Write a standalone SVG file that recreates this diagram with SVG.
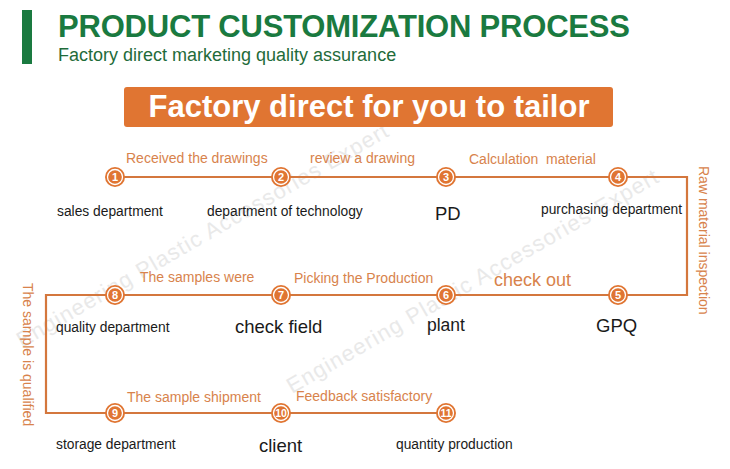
<svg xmlns="http://www.w3.org/2000/svg" width="730" height="469" viewBox="0 0 730 469">
<defs>
<style>
.t{font-family:"Liberation Sans",Arial,sans-serif}
.or{fill:#d8834c;font-size:14px}
.bk{fill:#1a1a1a;font-size:13.8px}
.big{fill:#1a1a1a;font-size:18.5px}
.ln{fill:none;stroke:#d4773d;stroke-width:2.2}
.c{fill:#e07532}
.ring{fill:none;stroke:#fff;stroke-width:1.3}
.num{fill:#fff;font-size:11px;font-weight:bold;text-anchor:middle}
.num2{fill:#fff;font-size:10.5px;font-weight:bold;text-anchor:middle}
.wm{fill:#e2e2e2;font-size:22px;opacity:0.75}
</style>
</defs>
<rect width="730" height="469" fill="#fff"/>
<g id="watermark" class="t">
<text class="wm" x="0" y="0" transform="translate(22,348) rotate(-30)" textLength="425">Engineering Plastic Accessories Expert</text>
<text class="wm" x="0" y="0" transform="translate(292,394) rotate(-30)" textLength="425">Engineering Plastic Accessories Expert</text>
</g>
<g id="header" class="t">
<rect x="22" y="10" width="10" height="54" fill="#1a7a40"/>
<text x="58" y="37" font-size="31" font-weight="bold" fill="#1a7a40" textLength="572">PRODUCT CUSTOMIZATION PROCESS</text>
<text x="58" y="61" font-size="18" fill="#1f6b3a">Factory direct marketing quality assurance</text>
<rect x="124" y="87" width="489" height="40" rx="3" fill="#e07532"/>
<text x="369" y="117" font-size="31" font-weight="bold" fill="#fff" text-anchor="middle">Factory direct for you to tailor</text>
</g>
<g id="connectors">
<path class="ln" d="M115,177 H687 V295 H46 V413 H446"/>
</g>
<g id="edge-labels" class="t">
<text class="or" x="126" y="163">Received the drawings</text>
<text class="or" x="310" y="163">review a drawing</text>
<text class="or" x="469" y="164" xml:space="preserve">Calculation  material</text>
<text class="or" x="140" y="282">The samples were</text>
<text class="or" x="294" y="283">Picking the Production</text>
<text class="or" x="494" y="286" style="font-size:18px">check out</text>
<text class="or" x="127" y="402">The sample shipment</text>
<text class="or" x="296" y="401">Feedback satisfactory</text>
<text class="or" transform="translate(699,166) rotate(90)">Raw material inspection</text>
<text class="or" transform="translate(23,283) rotate(90)">The sample is qualified</text>
</g>
<g id="node1" class="t"><circle class="c" cx="115" cy="177" r="10"/><circle class="ring" cx="115" cy="177" r="7.5"/><text class="num" x="115" y="181">1</text><text class="bk" x="57" y="216">sales department</text></g>
<g id="node2" class="t"><circle class="c" cx="281" cy="177" r="10"/><circle class="ring" cx="281" cy="177" r="7.5"/><text class="num" x="281" y="181">2</text><text class="bk" x="207" y="216">department of technology</text></g>
<g id="node3" class="t"><circle class="c" cx="446" cy="177" r="10"/><circle class="ring" cx="446" cy="177" r="7.5"/><text class="num" x="446" y="181">3</text><text class="big" x="435" y="220">PD</text></g>
<g id="node4" class="t"><circle class="c" cx="618" cy="177" r="10"/><circle class="ring" cx="618" cy="177" r="7.5"/><text class="num" x="618" y="181">4</text><text class="bk" x="541" y="214">purchasing department</text></g>
<g id="node5" class="t"><circle class="c" cx="618" cy="295" r="10"/><circle class="ring" cx="618" cy="295" r="7.5"/><text class="num" x="618" y="299">5</text><text class="big" x="596" y="332">GPQ</text></g>
<g id="node6" class="t"><circle class="c" cx="446" cy="295" r="10"/><circle class="ring" cx="446" cy="295" r="7.5"/><text class="num" x="446" y="299">6</text><text class="big" x="427" y="331" style="font-size:17.5px">plant</text></g>
<g id="node7" class="t"><circle class="c" cx="281" cy="295" r="10"/><circle class="ring" cx="281" cy="295" r="7.5"/><text class="num" x="281" y="299">7</text><text class="big" x="235" y="333">check field</text></g>
<g id="node8" class="t"><circle class="c" cx="115" cy="295" r="10"/><circle class="ring" cx="115" cy="295" r="7.5"/><text class="num" x="115" y="299">8</text><text class="bk" x="56" y="332">quality department</text></g>
<g id="node9" class="t"><circle class="c" cx="115" cy="413" r="10"/><circle class="ring" cx="115" cy="413" r="7.5"/><text class="num" x="115" y="417">9</text><text class="bk" x="56" y="449">storage department</text></g>
<g id="node10" class="t"><circle class="c" cx="281" cy="413" r="10"/><circle class="ring" cx="281" cy="413" r="7.5"/><text class="num2" x="281" y="417">10</text><text class="big" x="259" y="452">client</text></g>
<g id="node11" class="t"><circle class="c" cx="446" cy="413" r="10"/><circle class="ring" cx="446" cy="413" r="7.5"/><text class="num2" x="446" y="417">11</text><text class="bk" x="396" y="449">quantity production</text></g>
</svg>
